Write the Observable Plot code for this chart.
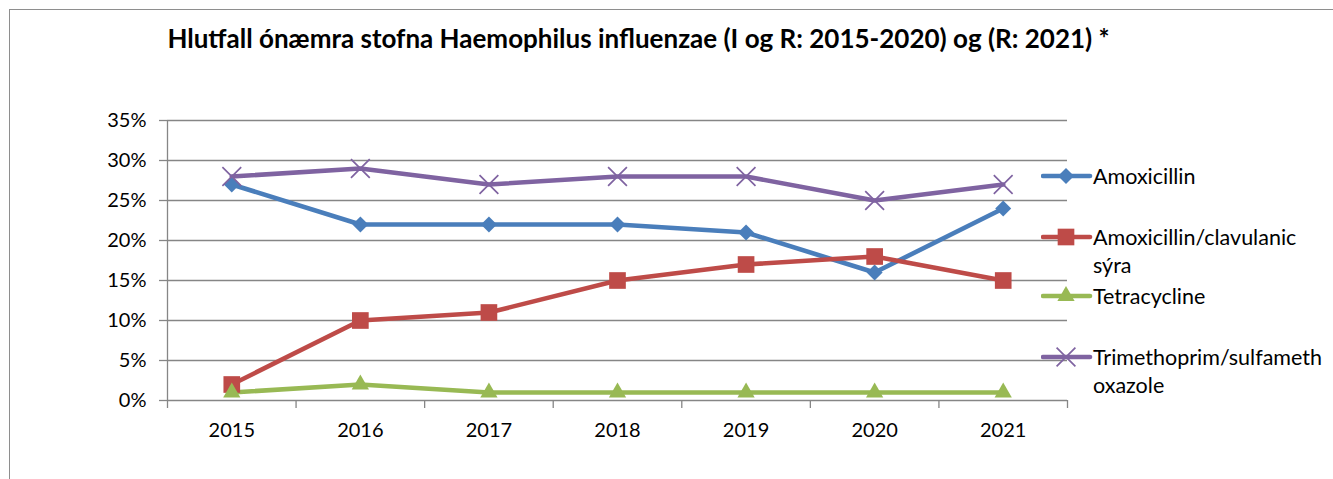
<!DOCTYPE html>
<html><head><meta charset="utf-8">
<script src="https://cdn.jsdelivr.net/npm/d3@7"></script>
<script src="https://cdn.jsdelivr.net/npm/@observablehq/plot@0.6"></script>
<style>
body{margin:0;background:#fff;}
#wrap{position:relative;width:1333px;height:479px;overflow:hidden;font-family:Lato,"Open Sans",sans-serif;color:#000;}
#frame{position:absolute;left:9px;top:9px;width:1500px;height:700px;border-left:1.5px solid #8e8e8e;border-top:1.5px solid #8e8e8e;box-sizing:border-box;}
#chart{position:absolute;left:0;top:0;}
#title{position:absolute;top:22px;left:0;width:1277px;text-align:center;font-weight:bold;font-size:26px;white-space:nowrap;}
.leg{position:absolute;left:1041px;font-size:21.5px;line-height:28px;}
.leg svg{position:absolute;left:0;top:0;}
.leg span{position:absolute;left:52px;top:0;white-space:nowrap;}
</style></head>
<body>
<div id="wrap">
<div id="frame"></div>
<div id="chart"></div>
<div id="title"></div>
<div id="legend"></div>
</div>
<script>
const titleText = "Hlutfall ónæmra stofna Haemophilus influenzae (I og R: 2015-2020) og (R: 2021) *";
const years = [2015, 2016, 2017, 2018, 2019, 2020, 2021];
const amoxicillin = [27, 22, 22, 22, 21, 16, 24];
const amoxClav = [2, 10, 11, 15, 17, 18, 15];
const tetracycline = [1, 2, 1, 1, 1, 1, 1];
const trimethoprim = [28, 29, 27, 28, 28, 25, 27];
const seriesNames = ["Amoxicillin", "Amoxicillin/clavulanic sýra", "Tetracycline", "Trimethoprim/sulfamethoxazole"];
const legendLabels = [["Amoxicillin"], ["Amoxicillin/clavulanic", "sýra"], ["Tetracycline"], ["Trimethoprim/sulfameth", "oxazole"]];
const yTicks = [0, 5, 10, 15, 20, 25, 30, 35];

document.getElementById("title").textContent = titleText;

const colors = ["#4A7EBB", "#BE4B48", "#98B954", "#7F63A1"];
const symbols = ["diamond2", "square", "triangle", "times"];
const symR = [7.2, 9.4, 6.4, 8.6];

const values = [amoxicillin, amoxClav, tetracycline, trimethoprim];
const rows = [];
values.forEach((arr, si) => arr.forEach((v, i) => rows.push({series: seriesNames[si], si, year: years[i], value: v / 100})));

const boundaries = d3.range(years[0] - 0.5, years[years.length - 1] + 1, 1);
const gridColor = "#868686";

const marks = [
  Plot.ruleY(yTicks.map(d => d / 100), {stroke: gridColor, strokeWidth: 1.3}),
  Plot.ruleX([boundaries[0]], {y1: 0, y2: 0.35, stroke: gridColor, strokeWidth: 1.3}),
  Plot.axisX({ticks: boundaries, tickSize: 8, tickFormat: () => "", label: null, stroke: gridColor, strokeWidth: 1.3}),
  Plot.axisX({ticks: years, tickSize: 0, tickPadding: 22, tickFormat: d => String(d), label: null, fontSize: 20, fill: "#000"}),
  Plot.axisY({ticks: yTicks.map(d => d / 100), tickSize: 8, tickPadding: 13, tickFormat: d3.format(".0%"), label: null, stroke: gridColor, strokeWidth: 1.3, fontSize: 20, fill: "#000"})
];
seriesNames.forEach((name, si) => {
  const data = rows.filter(r => r.si === si);
  marks.push(Plot.line(data, {x: "year", y: "value", stroke: colors[si], strokeWidth: 4.6, strokeLinejoin: "round"}));
});
seriesNames.forEach((name, si) => {
  const data = rows.filter(r => r.si === si);
  if (symbols[si] === "times") {
    marks.push(Plot.dot(data, {x: "year", y: "value", symbol: "times", r: symR[si], stroke: colors[si], strokeWidth: 1.7, fill: "none"}));
  } else {
    marks.push(Plot.dot(data, {x: "year", y: "value", symbol: symbols[si], r: symR[si], fill: colors[si], stroke: "none"}));
  }
});

const plot = Plot.plot({
  width: 1333, height: 479,
  marginLeft: 167, marginRight: 266, marginTop: 120, marginBottom: 79,
  style: {fontFamily: "Lato, 'Open Sans', sans-serif", fontSize: "20px", background: "transparent", color: "#000"},
  x: {type: "linear", domain: [boundaries[0], boundaries[boundaries.length - 1]], axis: null, label: null},
  y: {domain: [0, 0.35], axis: null, label: null},
  marks
});
document.getElementById("chart").appendChild(plot);

// legend
const legendTops = [162, 223, 282, 343];
const legend = document.getElementById("legend");
const symMap = {diamond2: d3.symbolDiamond2, square: d3.symbolSquare, triangle: d3.symbolTriangle, times: d3.symbolTimes};
seriesNames.forEach((name, si) => {
  const div = document.createElement("div");
  div.className = "leg";
  div.style.top = legendTops[si] + "px";
  const svgNS = "http://www.w3.org/2000/svg";
  const svg = document.createElementNS(svgNS, "svg");
  svg.setAttribute("width", 52); svg.setAttribute("height", 28);
  const line = document.createElementNS(svgNS, "line");
  line.setAttribute("x1", 2); line.setAttribute("x2", 49); line.setAttribute("y1", 14); line.setAttribute("y2", 14);
  line.setAttribute("stroke", colors[si]); line.setAttribute("stroke-width", 4.6); line.setAttribute("stroke-linecap", "round");
  svg.appendChild(line);
  const p = document.createElementNS(svgNS, "path");
  p.setAttribute("d", d3.symbol(symMap[symbols[si]], symR[si] * symR[si] * Math.PI)());
  p.setAttribute("transform", "translate(25,14)");
  if (symbols[si] === "times") { p.setAttribute("fill", "none"); p.setAttribute("stroke", colors[si]); p.setAttribute("stroke-width", 1.7); }
  else p.setAttribute("fill", colors[si]);
  svg.appendChild(p);
  div.appendChild(svg);
  const span = document.createElement("span");
  span.innerHTML = legendLabels[si].join("<br>");
  div.appendChild(span);
  legend.appendChild(div);
});
</script>
</body></html>
